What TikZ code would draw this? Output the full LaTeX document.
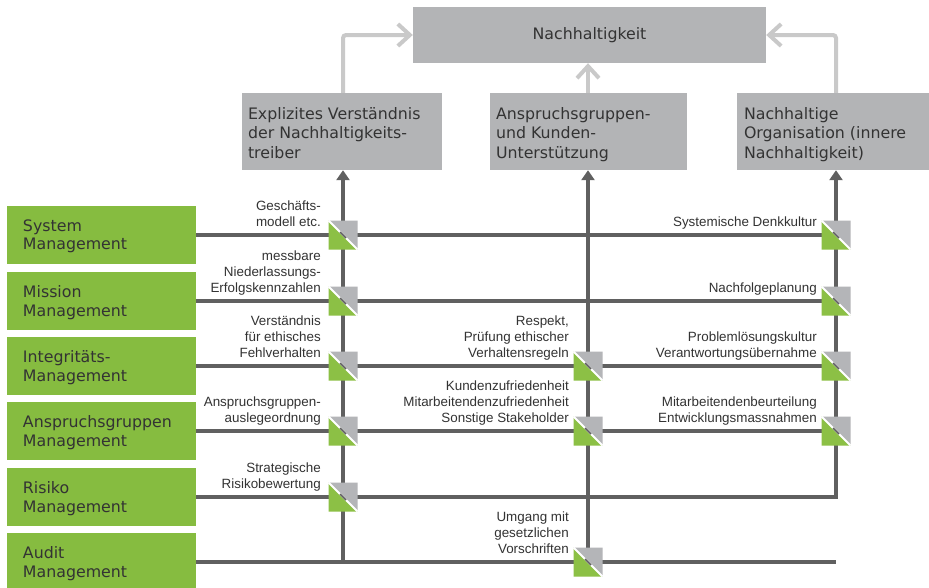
\documentclass[tikz,border=0pt]{standalone}
\usepackage{fontspec}
\setmainfont{DejaVu Sans}
\newfontfamily\labelfont{Liberation Sans}
\usetikzlibrary{arrows.meta}
\definecolor{boxgray}{HTML}{B3B4B6}
\definecolor{boxgreen}{HTML}{86BC40}
\definecolor{markgreen}{HTML}{8CC045}
\definecolor{markgray}{HTML}{B4B5B8}
\definecolor{linedark}{HTML}{606060}
\definecolor{linelight}{HTML}{C9C9C9}
\definecolor{txt}{HTML}{333333}

\begin{document}
\begin{tikzpicture}[x=1pt,y=-1pt,
  graybox/.style={fill=boxgray, minimum height=77pt, inner sep=0pt},
  greenbox/.style={fill=boxgreen, minimum height=58pt, minimum width=189pt, inner sep=0pt},
  boxtext/.style={text=txt, font=\fontsize{15.8}{19.5}\selectfont,
    align=left, inner sep=0pt, anchor=north west},
  greentext/.style={boxtext, font=\fontsize{15.8}{18.5}\selectfont},
  lbl/.style={font=\labelfont\fontsize{13.4}{16}\selectfont, text=txt,
    align=right, inner sep=0pt, anchor=south east, execute at end node=\strut},
  dline/.style={draw=linedark, line width=4.3pt},
  dtip/.style={-{Triangle[length=10pt,width=13pt]}},
  lline/.style={draw=linelight, line width=4pt, rounded corners=3pt,
    -{Straight Barb[length=12pt,width=22pt]}},
  crossbox/.pic={
    \fill[markgreen] (-14.5,-14.5) -- (-14.5,14.5) -- (14.5,14.5) -- cycle;
    \fill[markgray] (-14.5,-14.5) -- (14.5,-14.5) -- (14.5,14.5) -- cycle;
    \draw[white, line width=2pt] (-14.5,-14.5) -- (14.5,14.5);
    \draw[linedark, line width=1.6pt] (-3,-3) -- (3,3);
  }
]
\fill[white] (0,0) rectangle (929,587);
\useasboundingbox (0,0) rectangle (929,587);

% goal and three pillars
\node[fill=boxgray, text=txt, font=\fontsize{15.8}{19.5}\selectfont,
  minimum width=353pt, minimum height=56pt, inner sep=0pt] (top) at (589.5,35) {Nachhaltigkeit};
\node[graybox, minimum width=200pt] (b1) at (342,131.5) {};
\node[graybox, minimum width=197pt] (b2) at (588.5,131.5) {};
\node[graybox, minimum width=192pt] (b3) at (833,131.5) {};
\node[boxtext] (b1t) at ([xshift=6pt,yshift=-14pt]b1.north west)
  {Explizites Verständnis\\der Nachhaltigkeits-\\treiber};
\node[boxtext] (b2t) at ([xshift=6pt,yshift=-14pt]b2.north west)
  {Anspruchsgruppen-\\und Kunden-\\Unterstützung};
\node[boxtext] (b3t) at ([xshift=7pt,yshift=-14pt]b3.north west)
  {Nachhaltige\\Organisation (innere\\Nachhaltigkeit)};

% management disciplines
\node[greenbox] (g1) at (101.5,235) {};
\node[greenbox] (g2) at (101.5,301) {};
\node[greenbox] (g3) at (101.5,366) {};
\node[greenbox] (g4) at (101.5,431) {};
\node[greenbox] (g5) at (101.5,497) {};
\node[greenbox] (g6) at (101.5,562) {};
\node[greentext] (g1t) at ([xshift=16pt,yshift=15.7pt]g1.west) {System\\Management};
\node[greentext] (g2t) at ([xshift=16pt,yshift=15.7pt]g2.west) {Mission\\Management};
\node[greentext] (g3t) at ([xshift=16pt,yshift=15.7pt]g3.west) {Integritäts-\\Management};
\node[greentext] (g4t) at ([xshift=16pt,yshift=15.7pt]g4.west) {Anspruchsgruppen\\Management};
\node[greentext] (g5t) at ([xshift=16pt,yshift=15.7pt]g5.west) {Risiko\\Management};
\node[greentext] (g6t) at ([xshift=16pt,yshift=15.7pt]g6.west) {Audit\\Management};

% crossing points of the grid
\coordinate (cL1) at (343,235); \coordinate (cR1) at (836,235);
\coordinate (cL2) at (343,301); \coordinate (cR2) at (836,301);
\coordinate (cL3) at (343,366); \coordinate (cM3) at (588,366); \coordinate (cR3) at (836,366);
\coordinate (cL4) at (343,431); \coordinate (cM4) at (588,431); \coordinate (cR4) at (836,431);
\coordinate (cL5) at (343,497); \coordinate (cR5) at (836,497);
\coordinate (cL6) at (343,562); \coordinate (cM6) at (588,562); \coordinate (cR6) at (836,562);

% light arrows into the goal
\draw[lline] (b1.north -| cL1) |- (top.west);
\draw[lline] (b3.north -| cR1) |- (top.east);
\draw[lline] (b2.north -| cM3) -- (top.south -| cM3);

% horizontal lines
\draw[dline] (g1.east) -- (cR1);
\draw[dline] (g2.east) -- (cR2);
\draw[dline] (g3.east) -- (cR3);
\draw[dline] (g4.east) -- (cR4);
\draw[dline] (g6.east) -- (cR6);

% vertical lines up to the pillars
\draw[dline, dtip] (cL6) -- (b1.south -| cL6);
\draw[dline, dtip] (cM6) -- (b2.south -| cM6);
\draw[dline, dtip, line join=miter] (g5.east) -- (cR5) -- (b3.south -| cR5);

% crossing markers
\foreach \c in {cL1,cR1,cL2,cR2,cL3,cM3,cR3,cL4,cM4,cR4,cL5,cM6}
  \pic at (\c) {crossbox};

% labels, left column
\node[lbl] (l1) at (321,231) {Geschäfts-\\modell etc.};
\node[lbl] (l2) at (321,297) {messbare\\Niederlassungs-\\Erfolgskennzahlen};
\node[lbl] (l3) at (321,362) {Verständnis\\für ethisches\\Fehlverhalten};
\node[lbl] (l4) at (321,427) {Anspruchsgruppen-\\auslegeordnung};
\node[lbl] (l5) at (321,493) {Strategische\\Risikobewertung};
% labels, middle column
\node[lbl] (m3) at (569,362) {Respekt,\\Prüfung ethischer\\Verhaltensregeln};
\node[lbl] (m4) at (569,427) {Kundenzufriedenheit\\Mitarbeitendenzufriedenheit\\Sonstige Stakeholder};
\node[lbl] (m6) at (569,558) {Umgang mit\\gesetzlichen\\Vorschriften};
% labels, right column
\node[lbl] (r1) at (817,231) {Systemische Denkkultur};
\node[lbl] (r2) at (817,297) {Nachfolgeplanung};
\node[lbl] (r3) at (817,362) {Problemlösungskultur\\Verantwortungsübernahme};
\node[lbl] (r4) at (817,427) {Mitarbeitendenbeurteilung\\Entwicklungsmassnahmen};
\end{tikzpicture}
\end{document}
